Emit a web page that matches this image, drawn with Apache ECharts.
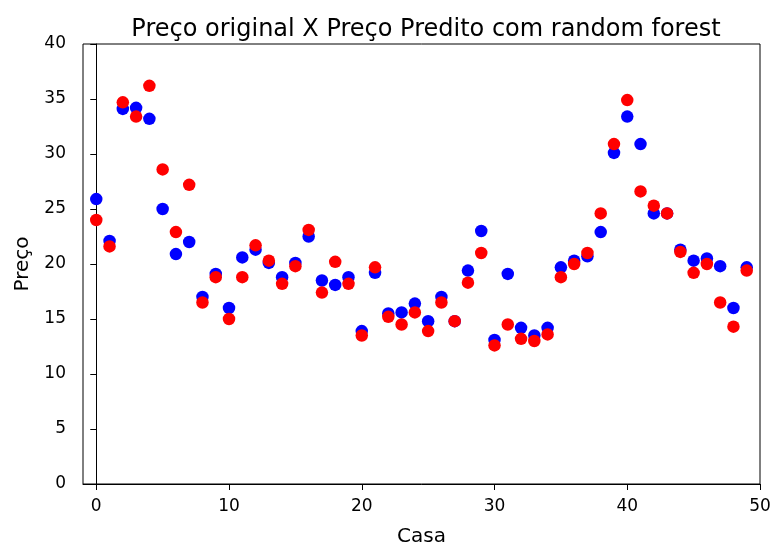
<!DOCTYPE html>
<html>
<head>
<meta charset="utf-8">
<script src="https://cdn.jsdelivr.net/npm/echarts@6/dist/echarts.min.js"></script>
<style>
html,body{margin:0;padding:0;background:#fff;}
#chart{width:771px;height:545px;}
</style>
</head>
<body>
<div id="chart"></div>
<script>
const casas = Array.from({length: 50}, (_, i) => i);
const precoOriginal = [25.9,22.1,34.1,34.2,33.2,25.0,20.9,22.0,17.0,19.1,16.0,20.6,21.3,20.1,18.8,20.1,22.5,18.5,18.1,18.8,13.9,19.2,15.5,15.6,16.4,14.8,17.0,14.8,19.4,23.0,13.1,19.1,14.2,13.5,14.2,19.7,20.3,20.7,22.9,30.1,33.4,30.9,24.6,24.6,21.3,20.3,20.5,19.8,16.0,19.7];
const precoPredito = [24.0,21.6,34.7,33.4,36.2,28.6,22.9,27.2,16.5,18.8,15.0,18.8,21.7,20.3,18.2,19.8,23.1,17.4,20.2,18.2,13.5,19.7,15.2,14.5,15.6,13.9,16.5,14.8,18.3,21.0,12.6,14.5,13.2,13.0,13.6,18.8,20.0,21.0,24.6,30.9,34.9,26.6,25.3,24.6,21.1,19.2,20.0,16.5,14.3,19.4];
const xTicks = [0,10,20,30,40,50];
const titulo = 'Preço original X Preço Predito com random forest';

const font = 'DejaVu Sans';
const chart = echarts.init(document.getElementById('chart'), null, {renderer: 'canvas'});
chart.setOption({
  animation: false,
  backgroundColor: '#fff',
  title: {
    text: titulo, left: 421, top: 13, textAlign: 'center',
    textStyle: {fontFamily: font, fontSize: 24, fontWeight: 'normal', color: '#000'}
  },
  grid: {left: 83, right: 11, top: 44, bottom: 61, show: true, borderColor: '#000', borderWidth: 1,
         outerBoundsMode: 'none', containLabel: false},
  xAxis: {
    type: 'value', min: -1, max: 50,
    name: 'Casa', nameLocation: 'middle', nameGap: 43,
    nameTextStyle: {fontFamily: font, fontSize: 20, color: '#000'},
    axisLine: {show: true, onZero: false, lineStyle: {color: '#000', width: 1}},
    axisTick: {show: true, length: 6, customValues: xTicks, lineStyle: {color: '#000'}},
    axisLabel: {customValues: xTicks, fontFamily: font, fontSize: 17, color: '#000', margin: 14},
    splitLine: {show: false}
  },
  yAxis: {
    type: 'value', min: 0, max: 40, interval: 5,
    name: 'Preço', nameLocation: 'middle', nameGap: 50, nameRotate: 90,
    nameTextStyle: {fontFamily: font, fontSize: 20, color: '#000'},
    axisLine: {show: true, lineStyle: {color: '#000', width: 1}},
    axisTick: {show: true, length: 6, lineStyle: {color: '#000'}},
    axisLabel: {fontFamily: font, fontSize: 17, color: '#000', margin: 17},
    splitLine: {show: false}
  },
  series: [
    {type: 'scatter', name: 'original', data: casas.map((c, i) => [c, precoOriginal[i]]),
     symbolSize: 12.5, itemStyle: {color: '#0000ff', opacity: 1}},
    {type: 'scatter', name: 'predito', data: casas.map((c, i) => [c, precoPredito[i]]),
     symbolSize: 12.5, itemStyle: {color: '#ff0000', opacity: 1}}
  ]
});
</script>
</body>
</html>
